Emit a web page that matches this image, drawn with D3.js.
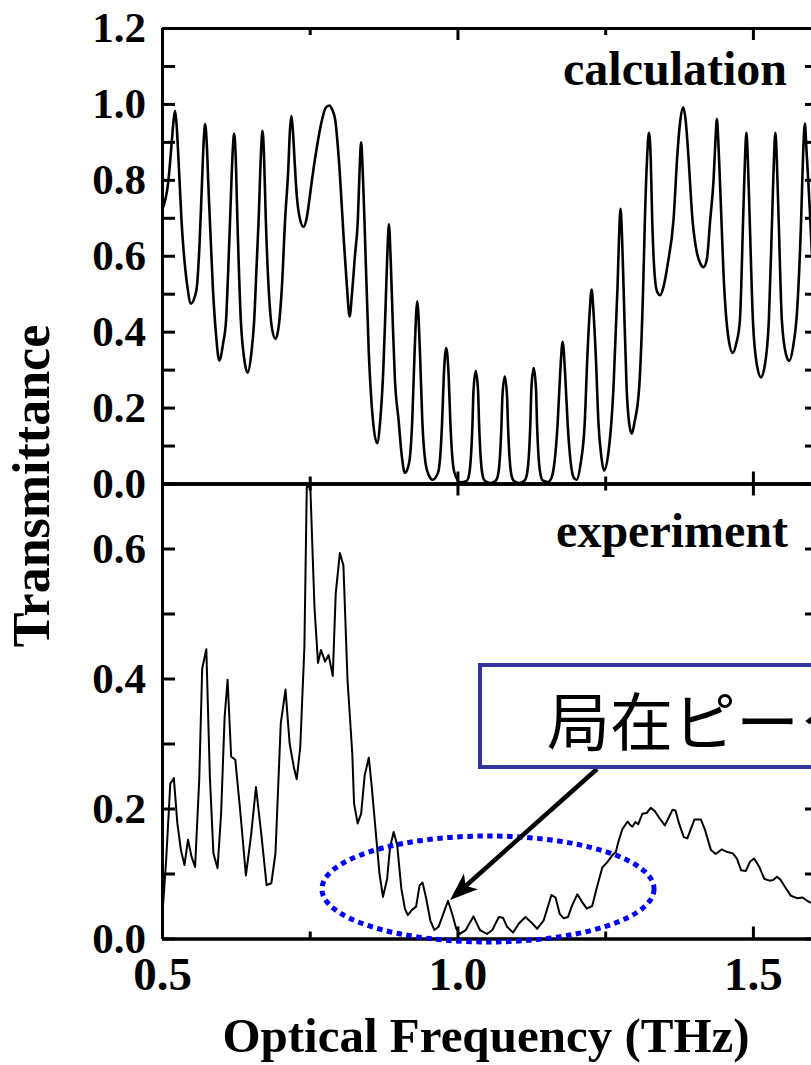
<!DOCTYPE html>
<html lang="ja">
<head>
<meta charset="UTF-8">
<title>Transmittance: calculation vs experiment</title>
<script src="https://d3js.org/d3.v7.min.js"></script>
<style>
  body { margin: 0; background: #fff; }
  svg { display: block; }
</style>
</head>
<body>
<svg width="811" height="1065"></svg>
<script>
// calculated transmittance (upper panel)
const calcFreq = [
  0.500, 0.511, 0.5165, 0.5195, 0.522, 0.5245, 0.5274, 0.533, 0.543, 0.549,
  0.555, 0.559, 0.5635, 0.5674, 0.5705, 0.573, 0.5756, 0.5786, 0.586, 0.591, 0.597,
  0.6035, 0.6084, 0.612, 0.6152, 0.6195, 0.622, 0.6245, 0.6276, 0.6334, 0.639, 0.645,
  0.651, 0.656, 0.660, 0.6635, 0.6675, 0.670, 0.6725, 0.6757, 0.681, 0.686, 0.692,
  0.698, 0.703, 0.7083, 0.7136, 0.7165, 0.719, 0.7215, 0.7244, 0.728, 0.733, 0.7395,
  0.745, 0.7508, 0.7565, 0.7622, 0.7706, 0.777, 0.783, 0.788, 0.7932, 0.8006, 0.8073, 0.813, 0.8175,
  0.8215, 0.8265, 0.8314, 0.8345, 0.837, 0.8395, 0.8426, 0.850, 0.857, 0.864,
  0.8693, 0.8745, 0.8776, 0.881, 0.884, 0.887, 0.8904, 0.894, 0.9004, 0.906, 0.911,
  0.918, 0.9235, 0.9274, 0.932, 0.9366, 0.9405, 0.946, 0.952, 0.958,
  0.9674, 0.9739, 0.9768, 0.981, 0.9852, 0.9881, 0.9946, 1.005,
  1.0157, 1.020, 1.0254, 1.0271, 1.031, 1.0349, 1.0366, 1.042, 1.0463, 1.056,
  1.0647, 1.069, 1.0744, 1.0761, 1.080, 1.0839, 1.0856, 1.091, 1.0953, 1.104,
  1.1137, 1.118, 1.1234, 1.1251, 1.129, 1.1329, 1.1346, 1.140, 1.1443, 1.153,
  1.1594, 1.1695, 1.1738, 1.178, 1.1822, 1.1865, 1.1966, 1.2017,
  1.2085, 1.2153, 1.2198, 1.2237, 1.227, 1.2303, 1.2342, 1.2387, 1.2435, 1.248,
  1.2545, 1.2641, 1.2709, 1.2735, 1.276, 1.2785, 1.2811, 1.2862, 1.2905, 1.295,
  1.2995, 1.3076, 1.3143, 1.3172, 1.321, 1.324, 1.327, 1.3296, 1.3337, 1.338, 1.343,
  1.349, 1.356, 1.3656, 1.3723, 1.377, 1.382, 1.386, 1.3905, 1.3978, 1.405, 1.4115, 1.4165,
  1.422, 1.4277, 1.4334, 1.4365, 1.439, 1.4415, 1.4446, 1.4514, 1.458, 1.466,
  1.472, 1.478, 1.4834, 1.4865, 1.489, 1.4915, 1.4946, 1.500, 1.507, 1.5136,
  1.520, 1.527, 1.5324, 1.5355, 1.538, 1.5405, 1.5436, 1.549, 1.556, 1.5615,
  1.568, 1.575, 1.5816, 1.585, 1.588, 1.5906, 1.5936, 1.597, 1.600
];
const calcT = [
  0.72, 0.80, 0.90, 0.955, 0.982, 0.95, 0.87, 0.694, 0.518, 0.474,
  0.49, 0.518, 0.63, 0.781, 0.90, 0.947, 0.90, 0.781, 0.518, 0.40, 0.324,
  0.37, 0.43, 0.56, 0.694, 0.87, 0.922, 0.87, 0.694, 0.43, 0.33, 0.292,
  0.34, 0.43, 0.57, 0.694, 0.87, 0.929, 0.87, 0.694, 0.50, 0.41, 0.381,
  0.42, 0.52, 0.694, 0.825, 0.93, 0.968, 0.93, 0.85, 0.76, 0.70, 0.676,
  0.70, 0.764, 0.83, 0.887, 0.957, 0.99, 0.996, 0.985, 0.957, 0.825, 0.65, 0.518, 0.44,
  0.50, 0.60, 0.694, 0.83, 0.899, 0.83, 0.694, 0.343, 0.166, 0.106,
  0.166, 0.30, 0.43, 0.59, 0.683, 0.59, 0.43, 0.28, 0.166, 0.07, 0.028,
  0.053, 0.166, 0.343, 0.48, 0.343, 0.166, 0.053, 0.02, 0.010,
  0.03, 0.157, 0.28, 0.357, 0.28, 0.157, 0.03, 0.003,
  0.007, 0.026, 0.157, 0.243, 0.296, 0.243, 0.157, 0.026, 0.007, 0.001,
  0.007, 0.025, 0.15, 0.23, 0.282, 0.23, 0.15, 0.025, 0.007, 0.001,
  0.008, 0.028, 0.16, 0.25, 0.304, 0.25, 0.16, 0.028, 0.008, 0.004,
  0.016, 0.157, 0.29, 0.373, 0.29, 0.157, 0.016, 0.010,
  0.053, 0.157, 0.333, 0.45, 0.511, 0.45, 0.333, 0.157, 0.07, 0.034,
  0.07, 0.254, 0.518, 0.65, 0.724, 0.65, 0.518, 0.254, 0.16, 0.131,
  0.16, 0.254, 0.518, 0.694, 0.86, 0.924, 0.86, 0.694, 0.55, 0.505, 0.496,
  0.52, 0.58, 0.694, 0.87, 0.955, 0.991, 0.96, 0.87, 0.694, 0.61, 0.578, 0.570,
  0.59, 0.694, 0.80, 0.90, 0.96, 0.90, 0.781, 0.518, 0.39, 0.344,
  0.37, 0.43, 0.694, 0.85, 0.924, 0.85, 0.694, 0.43, 0.31, 0.280,
  0.31, 0.43, 0.694, 0.85, 0.924, 0.85, 0.694, 0.43, 0.34, 0.323,
  0.36, 0.46, 0.694, 0.87, 0.948, 0.88, 0.80, 0.70, 0.60
];

// measured transmittance (lower panel)
const expFreq = [
  0.502, 0.507, 0.514, 0.520, 0.526, 0.532, 0.538, 0.544, 0.550, 0.556,
  0.563, 0.568, 0.575, 0.581, 0.587, 0.594, 0.600, 0.606, 0.611, 0.617,
  0.624, 0.632, 0.642, 0.651, 0.659, 0.668, 0.677, 0.685, 0.692, 0.701,
  0.709, 0.716, 0.723, 0.728, 0.734, 0.741, 0.745, 0.751, 0.758, 0.764,
  0.769, 0.776, 0.782, 0.789, 0.794, 0.801, 0.807, 0.814, 0.822, 0.825,
  0.831, 0.837, 0.843, 0.850, 0.855, 0.863, 0.868, 0.874, 0.881, 0.886,
  0.892, 0.898, 0.905, 0.911, 0.916, 0.923, 0.930, 0.936, 0.941, 0.947,
  0.954, 0.961, 0.968, 0.976, 0.984, 0.991, 0.998, 1.004, 1.014, 1.027,
  1.038, 1.050, 1.059, 1.070, 1.077, 1.084, 1.094, 1.104, 1.115, 1.127,
  1.135, 1.146, 1.159, 1.166, 1.173, 1.180, 1.187, 1.194, 1.203, 1.211,
  1.219, 1.228, 1.236, 1.245, 1.254, 1.262, 1.268, 1.273, 1.279, 1.288,
  1.292, 1.296, 1.301, 1.306, 1.313, 1.320, 1.327, 1.334, 1.342, 1.351,
  1.358, 1.364, 1.369, 1.375, 1.383, 1.389, 1.401, 1.412, 1.419, 1.429,
  1.437, 1.447, 1.457, 1.466, 1.473, 1.480, 1.488, 1.495, 1.502, 1.511,
  1.519, 1.528, 1.534, 1.541, 1.547, 1.556, 1.564, 1.575, 1.584, 1.592, 1.598
];
const expT = [
  0.054, 0.120, 0.238, 0.247, 0.177, 0.136, 0.113, 0.152, 0.126, 0.110,
  0.244, 0.415, 0.445, 0.249, 0.131, 0.108, 0.192, 0.341, 0.398, 0.280,
  0.275, 0.200, 0.097, 0.161, 0.233, 0.161, 0.082, 0.085, 0.131, 0.331,
  0.383, 0.300, 0.264, 0.245, 0.295, 0.449, 0.695, 0.695, 0.510, 0.424,
  0.444, 0.426, 0.436, 0.404, 0.531, 0.593, 0.574, 0.397, 0.285, 0.208,
  0.177, 0.192, 0.251, 0.278, 0.233, 0.151, 0.100, 0.064, 0.092, 0.141,
  0.164, 0.144, 0.077, 0.046, 0.036, 0.044, 0.049, 0.082, 0.086, 0.062,
  0.028, 0.013, 0.018, 0.038, 0.058, 0.038, 0.015, 0.007, 0.013, 0.034,
  0.013, 0.007, 0.013, 0.033, 0.032, 0.018, 0.009, 0.023, 0.033, 0.023,
  0.015, 0.028, 0.067, 0.063, 0.038, 0.031, 0.033, 0.051, 0.068, 0.056,
  0.046, 0.050, 0.079, 0.109, 0.118, 0.128, 0.133, 0.151, 0.168, 0.180,
  0.175, 0.172, 0.179, 0.176, 0.192, 0.193, 0.201, 0.196, 0.185, 0.174,
  0.187, 0.198, 0.197, 0.177, 0.156, 0.154, 0.183, 0.183, 0.167, 0.136,
  0.130, 0.137, 0.133, 0.131, 0.123, 0.105, 0.104, 0.118, 0.123, 0.110,
  0.092, 0.089, 0.090, 0.095, 0.090, 0.077, 0.066, 0.062, 0.063, 0.058, 0.055
];

// ticks
const xMajor = [0.5, 1.0, 1.5];
const xMinor = [0.75, 1.25];
const upperMajor = [0, 0.2, 0.4, 0.6, 0.8, 1.0, 1.2];
const upperMinor = [0.1, 0.3, 0.5, 0.7, 0.9, 1.1];
const lowerMajor = [0, 0.2, 0.4, 0.6];
const lowerMinor = [0.1, 0.3, 0.5, 0.7];

const serif = "'Liberation Serif', 'Times New Roman', serif";

const svg = d3.select("svg");
const left = 162, right = 812;
const upperTop = 28, mid = 483.5, lowerBottom = 938.5;

const x = d3.scaleLinear().domain([0.5, 1.6]).range([left, right]);
const yU = d3.scaleLinear().domain([0, 1.2]).range([mid, upperTop]);
const yL = d3.scaleLinear().domain([0, 0.7]).range([lowerBottom, mid]);

// clip each panel
const defs = svg.append("defs");
defs.append("clipPath").attr("id", "clipU").append("rect")
  .attr("x", left).attr("y", upperTop).attr("width", right - left).attr("height", mid - upperTop);
defs.append("clipPath").attr("id", "clipL").append("rect")
  .attr("x", left).attr("y", mid).attr("width", right - left).attr("height", lowerBottom - mid);

// curves
const calcData = calcFreq.map((f, i) => ({ f, t: calcT[i] }));
const expData = expFreq.map((f, i) => ({ f, t: expT[i] }));

svg.append("path")
  .datum(calcData)
  .attr("clip-path", "url(#clipU)")
  .attr("fill", "none")
  .attr("stroke", "#000")
  .attr("stroke-width", 2.6)
  .attr("stroke-linejoin", "round")
  .attr("d", d3.line().x(d => x(d.f)).y(d => yU(d.t)).curve(d3.curveMonotoneX));

svg.append("path")
  .datum(expData)
  .attr("clip-path", "url(#clipL)")
  .attr("fill", "none")
  .attr("stroke", "#000")
  .attr("stroke-width", 2)
  .attr("stroke-linejoin", "round")
  .attr("d", d3.line().x(d => x(d.f)).y(d => yL(d.t)));

// axes: ticks on all four sides, pointing inward
function styleAxis(g, size) {
  g.attr("font-family", serif).attr("font-weight", "bold").attr("font-size", size);
  g.select(".domain").attr("stroke-width", 3);
  g.selectAll(".tick line").attr("stroke-width", 3);
  g.selectAll(".tick text").attr("fill", "#000");
}
const noLabel = () => "";

function panel(y, top, bottom, major, minor, showX) {
  svg.append("g").attr("transform", `translate(${left},0)`)
    .call(d3.axisLeft(y).tickValues(major).tickSize(-13).tickSizeOuter(0)
      .tickPadding(16).tickFormat(d3.format(".1f")))
    .call(g => styleAxis(g, 43));
  svg.append("g").attr("transform", `translate(${left},0)`)
    .call(d3.axisLeft(y).tickValues(minor).tickSize(-13).tickSizeOuter(0).tickFormat(noLabel))
    .call(g => styleAxis(g, 43));
  svg.append("g").attr("transform", `translate(${right},0)`)
    .call(d3.axisRight(y).tickValues(major.concat(minor)).tickSize(-7).tickSizeOuter(0).tickFormat(noLabel))
    .call(g => styleAxis(g, 43));

  svg.append("g").attr("transform", `translate(0,${top})`)
    .call(d3.axisTop(x).tickValues(xMajor).tickSize(-12).tickSizeOuter(0).tickFormat(noLabel))
    .call(g => styleAxis(g, 47));
  svg.append("g").attr("transform", `translate(0,${top})`)
    .call(d3.axisTop(x).tickValues(xMinor).tickSize(-7).tickSizeOuter(0).tickFormat(noLabel))
    .call(g => styleAxis(g, 47));

  svg.append("g").attr("transform", `translate(0,${bottom})`)
    .call(d3.axisBottom(x).tickValues(xMajor).tickSize(-12).tickSizeOuter(0)
      .tickPadding(18).tickFormat(showX ? d3.format(".1f") : noLabel))
    .call(g => styleAxis(g, 47));
  svg.append("g").attr("transform", `translate(0,${bottom})`)
    .call(d3.axisBottom(x).tickValues(xMinor).tickSize(-7).tickSizeOuter(0).tickFormat(noLabel))
    .call(g => styleAxis(g, 47));
}
panel(yU, upperTop, mid, upperMajor, upperMinor, false);
panel(yL, mid, lowerBottom, lowerMajor, lowerMinor, true);

// panel names
svg.append("text")
  .attr("x", right - 25).attr("y", 85)
  .attr("text-anchor", "end")
  .attr("font-family", serif).attr("font-weight", "bold").attr("font-size", 48)
  .text("calculation");
svg.append("text")
  .attr("x", right - 24).attr("y", 547)
  .attr("text-anchor", "end")
  .attr("font-family", serif).attr("font-weight", "bold").attr("font-size", 48)
  .text("experiment");

// axis titles
svg.append("text")
  .attr("x", 486).attr("y", 1052)
  .attr("text-anchor", "middle")
  .attr("font-family", serif).attr("font-weight", "bold").attr("font-size", 49)
  .text("Optical Frequency (THz)");
svg.append("text")
  .attr("transform", "translate(49,486) rotate(-90)")
  .attr("text-anchor", "middle")
  .attr("font-family", serif).attr("font-weight", "bold").attr("font-size", 52)
  .text("Transmittance");

// annotation: dotted ellipse round the low-transmission band
const ell = { f: 1.0517, t: 0.0762, df: 0.281, dt: 0.0815 };
svg.append("ellipse")
  .attr("cx", x(ell.f)).attr("cy", yL(ell.t))
  .attr("rx", x(ell.f + ell.df) - x(ell.f))
  .attr("ry", yL(0) - yL(ell.dt))
  .attr("fill", "none")
  .attr("stroke", "#0000ff")
  .attr("stroke-width", 5)
  .attr("stroke-dasharray", "5.5 4.5");

// arrow from the label box to the localized peak
const arrowFrom = { f: 1.2362, t: 0.2608 };
const arrowTo = { f: 0.9874, t: 0.0592 };
const ax1 = x(arrowFrom.f), ay1 = yL(arrowFrom.t);
const ax2 = x(arrowTo.f), ay2 = yL(arrowTo.t);
const len = Math.hypot(ax2 - ax1, ay2 - ay1);
const ux = (ax2 - ax1) / len, uy = (ay2 - ay1) / len;
const headLen = 28, headW = 10.5, notch = 21;
svg.append("line")
  .attr("x1", ax1).attr("y1", ay1)
  .attr("x2", ax2 - ux * notch).attr("y2", ay2 - uy * notch)
  .attr("stroke", "#000").attr("stroke-width", 4.5);
svg.append("path")
  .attr("fill", "#000")
  .attr("d", d3.line()([
    [ax2, ay2],
    [ax2 - ux * headLen - uy * headW, ay2 - uy * headLen + ux * headW],
    [ax2 - ux * notch, ay2 - uy * notch],
    [ax2 - ux * headLen + uy * headW, ay2 - uy * headLen - ux * headW]
  ]) + "Z");

// label box (runs past the right edge, as in the source figure)
const boxF = 1.0382, boxTop = 0.4208, boxBottom = 0.2638;
svg.append("rect")
  .attr("x", x(boxF)).attr("y", yL(boxTop))
  .attr("width", 420).attr("height", yL(boxBottom) - yL(boxTop))
  .attr("fill", "#fff")
  .attr("stroke", "#333399")
  .attr("stroke-width", 4);
svg.append("text")
  .attr("x", x(boxF) + 67).attr("y", 745)
  .attr("font-family", "'Noto Sans CJK JP', 'Noto Sans CJK SC', sans-serif")
  .attr("font-size", 63)
  .attr("fill", "#000")
  .text("局在ピーク");
</script>
</body>
</html>
